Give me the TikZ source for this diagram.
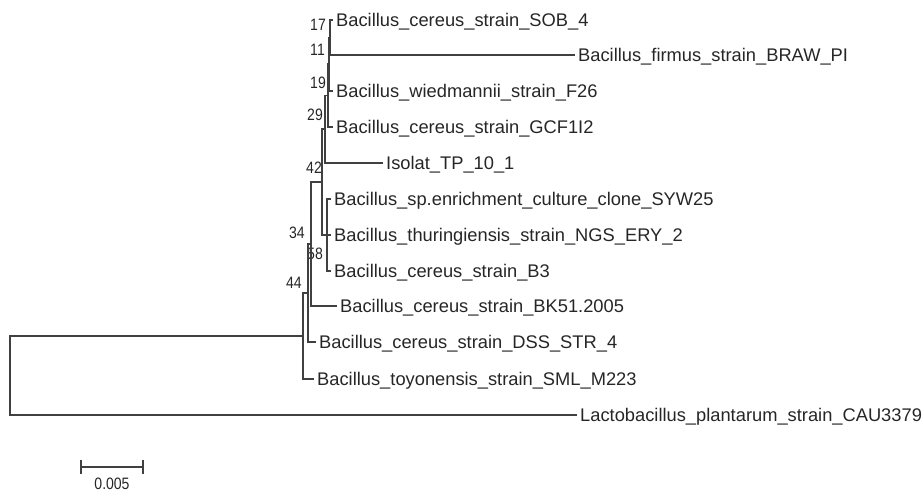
\documentclass[tikz,border=0pt]{standalone}
\usepackage{fontspec}
\setmainfont{Liberation Sans}
\newfontfamily\bootfont[FakeStretch=0.85]{Liberation Sans}

\begin{document}
\begin{tikzpicture}[x=1pt, y=-1pt]
\tikzstyle{branch}=[line width=1.2pt, black!75, line cap=rect]
\tikzstyle{leaf}=[anchor=west, inner xsep=4pt, inner ysep=0pt, text height=13pt, text depth=0pt, text=black!85, font=\fontsize{18.3}{20}\selectfont]
\tikzstyle{boot}=[anchor=east, inner sep=0pt, text height=12pt, text depth=0pt, text=black!85, font=\bootfont\fontsize{16.5}{18}\selectfont]
\useasboundingbox (0,0) rectangle (922,492);
\path (10,375.5) coordinate (root);
\path (303,336) coordinate (nI);
\path (308,293) coordinate (nH);
\path (311,244) coordinate (nG);
\path (322,182) coordinate (nE);
\path (327,235) coordinate (nF);
\path (325,129) coordinate (nD);
\path (328,95.5) coordinate (nC);
\path (329,64) coordinate (nB);
\path (330,37.5) coordinate (nA);
\path (332,20) node[leaf] (sob) {Bacillus\_cereus\_strain\_SOB\_4};
\path (574,55) node[leaf] (firmus) {Bacillus\_firmus\_strain\_BRAW\_PI};
\path (332,91) node[leaf] (f26) {Bacillus\_wiedmannii\_strain\_F26};
\path (332,127) node[leaf] (gcf) {Bacillus\_cereus\_strain\_GCF1I2};
\path (382,163) node[leaf] (isolat) {Isolat\_TP\_10\_1};
\path (330,199) node[leaf] (syw) {Bacillus\_sp.enrichment\_culture\_clone\_SYW25};
\path (330,235) node[leaf] (ngs) {Bacillus\_thuringiensis\_strain\_NGS\_ERY\_2};
\path (330,271) node[leaf] (b3) {Bacillus\_cereus\_strain\_B3};
\path (336,306) node[leaf] (bk) {Bacillus\_cereus\_strain\_BK51.2005};
\path (315,342) node[leaf] (dss) {Bacillus\_cereus\_strain\_DSS\_STR\_4};
\path (313,379) node[leaf] (toy) {Bacillus\_toyonensis\_strain\_SML\_M223};
\path (576,415) node[leaf] (lacto) {Lactobacillus\_plantarum\_strain\_CAU3379};
\path (326,25) node[boot] (b17) {17};
\path (325,50) node[boot] (b11) {11};
\path (326,83) node[boot] (b19) {19};
\path (323,115) node[boot] (b29) {29};
\path (322,168) node[boot] (b42) {42};
\path (305,233) node[boot] (b34) {34};
\path (323,253) node[boot] (b58) {58};
\path (302,282) node[boot] (b44) {44};
\draw[branch]
(root) |- (nI) (root) |- (lacto.west)
(nI) |- (nH) (nI) |- (toy.west)
(nH) |- (nG) (nH) |- (dss.west)
(nG) |- (nE) (nG) |- (bk.west)
(nE) |- (nD) (nE) |- (nF)
(nF) |- (syw.west) (nF) |- (ngs.west) (nF) |- (b3.west)
(nD) |- (nC) (nD) |- (isolat.west)
(nC) |- (nB) (nC) |- (gcf.west)
(nB) |- (nA) (nB) |- (f26.west)
(nA) |- (sob.west) (nA) |- (firmus.west)
;
\path (81,467) coordinate (barL);
\path (143,467) coordinate (barR);
\draw[branch] (barL) -- (barR)
([yshift=-6pt]barL) -- ([yshift=6pt]barL)
([yshift=-6pt]barR) -- ([yshift=6pt]barR);
\path (112,483) node[boot, anchor=center] (barlabel) {0.005};
\end{tikzpicture}
\end{document}
